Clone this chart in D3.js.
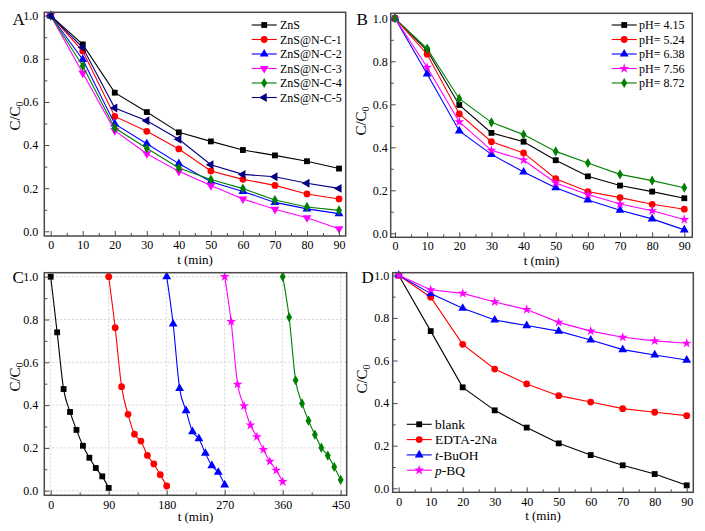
<!DOCTYPE html>
<html><head><meta charset="utf-8">
<script src="https://cdn.jsdelivr.net/npm/d3@7"></script>
<style>
body{margin:0;background:#fff}
svg{display:block}
text{font-family:"Liberation Serif","Times New Roman",serif;fill:#000}
</style>
</head><body>
<svg id="chart" width="705" height="531"></svg>
<script>
// ---------- data ----------
const timeMin = [0,10,20,30,40,50,60,70,80,90];

// Panel A
const namesA = ["ZnS","ZnS@N-C-1","ZnS@N-C-2","ZnS@N-C-3","ZnS@N-C-4","ZnS@N-C-5"];
const znsA  = [1.0,0.867,0.643,0.553,0.459,0.417,0.377,0.352,0.325,0.291];
const nc1A  = [1.0,0.836,0.533,0.464,0.382,0.280,0.241,0.213,0.173,0.150];
const nc2A  = [1.0,0.797,0.498,0.406,0.314,0.230,0.185,0.134,0.104,0.082];
const nc3A  = [1.0,0.734,0.467,0.360,0.278,0.212,0.150,0.102,0.063,0.012];
const nc4A  = [1.0,0.767,0.479,0.385,0.294,0.240,0.198,0.145,0.113,0.097];
const nc5A  = [1.0,0.852,0.572,0.513,0.427,0.309,0.264,0.253,0.223,0.199];

// Panel B
const namesB = ["pH= 4.15","pH= 5.24","pH= 6.38","pH= 7.56","pH= 8.72"];
const ph415 = [1.0,0.850,0.597,0.467,0.426,0.340,0.265,0.222,0.194,0.163];
const ph524 = [1.0,0.833,0.555,0.426,0.374,0.254,0.194,0.166,0.135,0.112];
const ph638 = [1.0,0.741,0.476,0.367,0.285,0.212,0.155,0.107,0.067,0.016];
const ph756 = [1.0,0.772,0.518,0.386,0.341,0.234,0.180,0.136,0.105,0.064];
const ph872 = [1.0,0.859,0.626,0.516,0.459,0.381,0.327,0.274,0.245,0.212];

// Panel C (recycling runs)
const cycleStart = [0,90,180,270,360];
const cycle1 = [1.0,0.740,0.475,0.368,0.284,0.210,0.154,0.106,0.067,0.013];
const cycle2 = [1.0,0.762,0.486,0.357,0.264,0.232,0.165,0.125,0.075,0.022];
const cycle3 = [1.0,0.779,0.478,0.374,0.276,0.243,0.175,0.117,0.086,0.027];
const cycle4 = [1.0,0.790,0.497,0.396,0.306,0.252,0.192,0.137,0.095,0.042];
const cycle5 = [1.0,0.810,0.516,0.408,0.327,0.262,0.201,0.164,0.111,0.051];

// Panel D (scavengers)
const namesD = ["blank","EDTA-2Na","t-BuOH","p-BQ"];
const blankD = [1.0,0.738,0.474,0.366,0.285,0.211,0.156,0.108,0.067,0.014];
const edtaD  = [1.0,0.897,0.676,0.560,0.490,0.435,0.405,0.374,0.357,0.341];
const tbuohD = [1.0,0.914,0.845,0.790,0.764,0.738,0.696,0.651,0.626,0.602];
const pbqD   = [1.0,0.932,0.915,0.875,0.839,0.779,0.738,0.709,0.692,0.681];

const yTicks = [0,0.2,0.4,0.6,0.8,1.0];
const yMinor = [0.1,0.3,0.5,0.7,0.9];
const xTicks90 = [0,10,20,30,40,50,60,70,80,90];
const xMinor90 = [5,15,25,35,45,55,65,75,85];
const xTicksC = [0,90,180,270,360,450];
const xMinorC = [45,135,225,315,405];

// ---------- drawing ----------
const svg = d3.select("#chart");
const FRAME = "#4a4a4a";

function symbolPath(shape, size){
  const map = {square:d3.symbolSquare, circle:d3.symbolCircle, tri:d3.symbolTriangle,
    triDown:d3.symbolTriangle, triLeft:d3.symbolTriangle, star:d3.symbolStar, diamond:d3.symbolDiamond};
  return d3.symbol().type(map[shape]).size(size)();
}
function rot(shape){ return shape==="triDown"?180:(shape==="triLeft"?-90:0); }
const sizes = {square:34, circle:36, tri:34, triDown:34, triLeft:34, star:30, diamond:30};

function panel(cfg){
  const g = svg.append("g");
  const x = d3.scaleLinear().domain(cfg.xd).range(cfg.xr);
  const y = d3.scaleLinear().domain([0,1]).range(cfg.yr);
  const f = cfg.frame;

  if(cfg.grid){
    g.append("g").selectAll("line.v").data(cfg.xt).join("line")
      .attr("x1",d=>x(d)).attr("x2",d=>x(d)).attr("y1",f.t).attr("y2",f.b)
      .attr("stroke","#c8c8c8").attr("stroke-width",0.8).attr("stroke-dasharray","2,2");
    g.append("g").selectAll("line.h").data(yTicks).join("line")
      .attr("y1",d=>y(d)).attr("y2",d=>y(d)).attr("x1",f.l).attr("x2",f.r)
      .attr("stroke","#c8c8c8").attr("stroke-width",0.8).attr("stroke-dasharray","2,2");
  }

  const line = d3.line().x(d=>x(d[0])).y(d=>y(d[1])).curve(cfg.curve||d3.curveLinear);
  cfg.series.forEach(s=>{
    const pts = s.t.map((t,i)=>[t,s.v[i]]);
    g.append("path").attr("d",line(pts)).attr("fill","none")
      .attr("stroke",s.color).attr("stroke-width",1.1);
    g.append("g").selectAll("path").data(pts).join("path")
      .attr("d",symbolPath(s.shape,sizes[s.shape]))
      .attr("transform",d=>`translate(${x(d[0])},${y(d[1])}) rotate(${rot(s.shape)})`)
      .attr("fill",s.color);
  });

  // axes
  const ax = g.append("g").attr("transform",`translate(0,${f.b})`)
    .call(d3.axisBottom(x).tickValues(cfg.xt).tickSize(-5).tickPadding(cfg.xpad).tickFormat(d3.format("d")));
  const axm = g.append("g").attr("transform",`translate(0,${f.b})`)
    .call(d3.axisBottom(x).tickValues(cfg.xm).tickSize(-3).tickFormat(""));
  const ay = g.append("g").attr("transform",`translate(${f.l},0)`)
    .call(d3.axisLeft(y).tickValues(yTicks).tickSize(-5).tickPadding(cfg.ypad).tickFormat(d3.format(".1f")));
  const aym = g.append("g").attr("transform",`translate(${f.l},0)`)
    .call(d3.axisLeft(y).tickValues(yMinor).tickSize(-3).tickFormat(""));
  [ax,axm,ay,aym].forEach(a=>{
    a.select(".domain").remove();
    a.selectAll("line").attr("stroke",FRAME).attr("stroke-width",1);
    a.selectAll("text").attr("font-family","Liberation Serif").attr("font-size",12).attr("fill","#000");
  });

  g.append("rect").attr("x",f.l).attr("y",f.t).attr("width",f.r-f.l).attr("height",f.b-f.t)
    .attr("fill","none").attr("stroke",FRAME).attr("stroke-width",1.5);

  // panel letter
  g.append("text").attr("x",cfg.letter[0]).attr("y",cfg.letter[1]).attr("font-size",17).text(cfg.label);

  // axis titles
  const yt = g.append("text").attr("transform",`translate(${cfg.ytitle[0]},${cfg.ytitle[1]}) rotate(-90)`)
    .attr("text-anchor","middle").attr("font-size",15);
  yt.append("tspan").text("C/C");
  yt.append("tspan").attr("dy","0.3em").attr("font-size",10).text("0");
  g.append("text").attr("x",(f.l+f.r)/2).attr("y",cfg.xtitleY).attr("text-anchor","middle")
    .attr("font-size",13).text("t (min)");

  // legend
  if(cfg.legend){
    const L = cfg.legend;
    cfg.series.forEach((s,i)=>{
      const yy = L.y + i*L.dy;
      g.append("line").attr("x1",L.x0).attr("x2",L.x1).attr("y1",yy).attr("y2",yy)
        .attr("stroke",s.color).attr("stroke-width",1.1);
      g.append("path").attr("d",symbolPath(s.shape,sizes[s.shape]))
        .attr("transform",`translate(${(L.x0+L.x1)/2},${yy}) rotate(${rot(s.shape)})`).attr("fill",s.color);
      const t = g.append("text").attr("x",L.tx).attr("y",yy).attr("dy","0.35em").attr("font-size",L.fs);
      if(s.italic){
        t.append("tspan").attr("font-style","italic").text(s.italic);
        t.append("tspan").text(s.name.slice(s.italic.length));
      } else t.text(s.name);
    });
  }
}

// Panel A
panel({
  label:"A", letter:[12.5,25], xd:[0,90], xr:[50.7,339], yr:[231.3,15.7],
  frame:{l:44.3,r:345.7,t:12.3,b:236}, xt:xTicks90, xm:xMinor90, xpad:4, ypad:6,
  ytitle:[20,116], xtitleY:263.5,
  legend:{x0:251.7,x1:276.7,tx:280,y:25,dy:14.5,fs:12},
  series:[
    {name:namesA[0],t:timeMin,v:znsA,color:"#000000",shape:"square"},
    {name:namesA[1],t:timeMin,v:nc1A,color:"#ff0000",shape:"circle"},
    {name:namesA[2],t:timeMin,v:nc2A,color:"#0000ff",shape:"tri"},
    {name:namesA[3],t:timeMin,v:nc3A,color:"#ff00ff",shape:"triDown"},
    {name:namesA[4],t:timeMin,v:nc4A,color:"#008000",shape:"diamond"},
    {name:namesA[5],t:timeMin,v:nc5A,color:"#000080",shape:"triLeft"}
  ]
});

// Panel B
panel({
  label:"B", letter:[356.5,25], xd:[0,90], xr:[395,684.3], yr:[233.3,18.3],
  frame:{l:390.7,r:692.3,t:13.3,b:237.3}, xt:xTicks90, xm:xMinor90, xpad:4, ypad:3,
  ytitle:[366,121], xtitleY:265,
  legend:{x0:611.7,x1:636.7,tx:639,y:25,dy:14.5,fs:12},
  series:[
    {name:namesB[0],t:timeMin,v:ph415,color:"#000000",shape:"square"},
    {name:namesB[1],t:timeMin,v:ph524,color:"#ff0000",shape:"circle"},
    {name:namesB[2],t:timeMin,v:ph638,color:"#0000ff",shape:"tri"},
    {name:namesB[3],t:timeMin,v:ph756,color:"#ff00ff",shape:"star"},
    {name:namesB[4],t:timeMin,v:ph872,color:"#008000",shape:"diamond"}
  ]
});

// Panel C
const cycles = [cycle1,cycle2,cycle3,cycle4,cycle5];
const cycColors = ["#000000","#ff0000","#0000ff","#ff00ff","#008000"];
const cycShapes = ["square","circle","tri","star","diamond"];
panel({
  label:"C", letter:[12.5,283], xd:[0,450], xr:[50.7,340.7], yr:[490.7,276.7],
  frame:{l:44.3,r:346.7,t:272.7,b:495.3}, xt:xTicksC, xm:xMinorC, xpad:5, ypad:6,
  ytitle:[20,377], xtitleY:521, grid:true, curve:d3.curveMonotoneX,
  series:cycles.map((c,k)=>({t:timeMin.map(t=>cycleStart[k]+t),v:c,color:cycColors[k],shape:cycShapes[k]}))
});

// Panel D
panel({
  label:"D", letter:[361.5,283], xd:[0,90], xr:[398.7,686.7], yr:[488.3,275.3],
  frame:{l:392.7,r:693.3,t:272.7,b:492.3}, xt:xTicks90, xm:xMinor90, xpad:5, ypad:3.4,
  ytitle:[367,379], xtitleY:520,
  legend:{x0:406.7,x1:431.7,tx:435,y:424.3,dy:15.3,fs:13.5},
  series:[
    {name:namesD[0],t:timeMin,v:blankD,color:"#000000",shape:"square"},
    {name:namesD[1],t:timeMin,v:edtaD,color:"#ff0000",shape:"circle"},
    {name:namesD[2],t:timeMin,v:tbuohD,color:"#0000ff",shape:"tri",italic:"t"},
    {name:namesD[3],t:timeMin,v:pbqD,color:"#ff00ff",shape:"star",italic:"p"}
  ]
});
</script>
</body></html>
